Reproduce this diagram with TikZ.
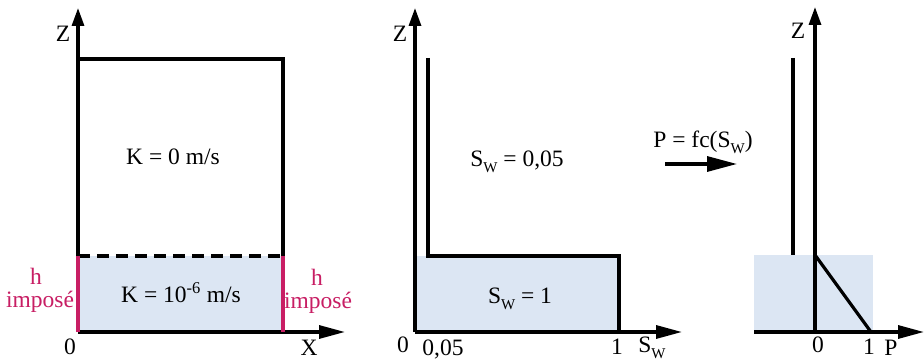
\documentclass[tikz,border=0pt]{standalone}
\usepackage{fontspec}
\setmainfont{Liberation Serif}
\usetikzlibrary{arrows.meta}
\definecolor{fillblue}{RGB}{220,230,243}
\definecolor{magred}{RGB}{200,30,100}
\newcommand{\subW}{\raisebox{-0.25em}{\fontsize{15}{15}\selectfont W}}
\begin{document}
\begin{tikzpicture}[x=1pt,y=-1pt,
  lbl/.style={font=\fontsize{23.5}{26}\selectfont, inner sep=0pt},
  mlbl/.style={lbl, text=magred},
  vaxis/.style={line width=3.2pt, -{Triangle[length=18pt,width=12pt]}},
  haxis/.style={line width=3.2pt, -{Triangle[length=26pt,width=13pt]}},
  bigarrow/.style={line width=3.2pt, -{Triangle[length=30pt,width=15pt]}},
  edge/.style={line width=3.2pt, line join=miter},
  dashedge/.style={line width=3.2pt, dash pattern=on 12pt off 7pt},
  magedge/.style={line width=3.2pt, draw=magred},
  zone/.style={fill=fillblue, draw=none}
]
\useasboundingbox[fill=white] (0,0) rectangle (924,363);

% ---------- Panel 1 ----------
\coordinate (o1) at (78,332);
\coordinate (z1) at (78,8);
\coordinate (x1) at (345,332);
\coordinate (tl1) at (78,59);
\coordinate (tr1) at (283,59);
\coordinate (ml1) at (78,256);
\coordinate (mr1) at (283,256);
\coordinate (br1) at (283,332);
\fill[zone] (ml1) rectangle (br1);
\draw[edge] (tl1) -- (tr1) -- (mr1);
\draw[dashedge] (ml1) -- (mr1);
\draw[vaxis] (o1) -- (z1);
\draw[haxis] (o1) -- (x1);
\draw[magedge] (ml1) -- (o1);
\draw[magedge] (mr1) -- (br1);
\node[lbl] (zl1) at (63,34) {Z};
\node[lbl] (xl1) at (309,348) {X};
\node[lbl] (ol1) at (70,347) {0};
\node[lbl] (k0) at (173,157) {K = 0 m/s};
\node[lbl] (k6) at (181,293) {K = 10\textsuperscript{-6} m/s};
\node[mlbl] (hl) at (36,276) {h};
\node[mlbl] (il) at (40,302) {imposé};
\node[mlbl] (hr) at (317,277) {h};
\node[mlbl] (ir) at (318,303) {imposé};

% ---------- Panel 2 ----------
\coordinate (o2) at (415,332);
\coordinate (z2) at (415,8);
\coordinate (s2) at (682,332);
\coordinate (a2) at (428,58);
\coordinate (b2) at (428,256);
\coordinate (c2) at (619,256);
\coordinate (d2) at (619,332);
\fill[zone] (o2 |- b2) rectangle (d2);
\draw[edge] (a2) -- (b2) -- (c2) -- (d2);
\draw[vaxis] (o2) -- (z2);
\draw[haxis] (o2) -- (s2);
\node[lbl] (zl2) at (400,34) {Z};
\node[lbl] (ol2) at (403,345) {0};
\node[lbl] (p05) at (443,349) {0,05};
\node[lbl] (one2) at (617,347) {1};
\node[lbl] (sl2) at (652,348) {S\subW};
\node[lbl] (sw05) at (517,162) {S\subW{} = 0,05};
\node[lbl] (sw1) at (520,299) {S\subW{} = 1};

% ---------- Transformation arrow ----------
\coordinate (ta) at (665,164);
\coordinate (tb) at (737,164);
\draw[bigarrow] (ta) -- (tb);
\node[lbl] (pfc) at (703,142) {P = fc(S\subW)};

% ---------- Panel 3 ----------
\coordinate (o3) at (815,332);
\coordinate (z3) at (815,7);
\coordinate (l3) at (754,332);
\coordinate (p3) at (924,332);
\coordinate (a3) at (793,58);
\coordinate (b3) at (793,255);
\coordinate (m3) at (815,255);
\coordinate (e3) at (871,332);
\fill[zone] (754,255) rectangle (873,332);
\draw[edge] (a3) -- (b3);
\draw[edge] (m3) -- (e3);
\draw[vaxis] (o3) -- (z3);
\draw[haxis] (l3) -- (p3);
\node[lbl] (zl3) at (798,31) {Z};
\node[lbl] (ol3) at (818,345) {0};
\node[lbl] (one3) at (869,347) {1};
\node[lbl] (pl3) at (891,348) {P};
\end{tikzpicture}
\end{document}
